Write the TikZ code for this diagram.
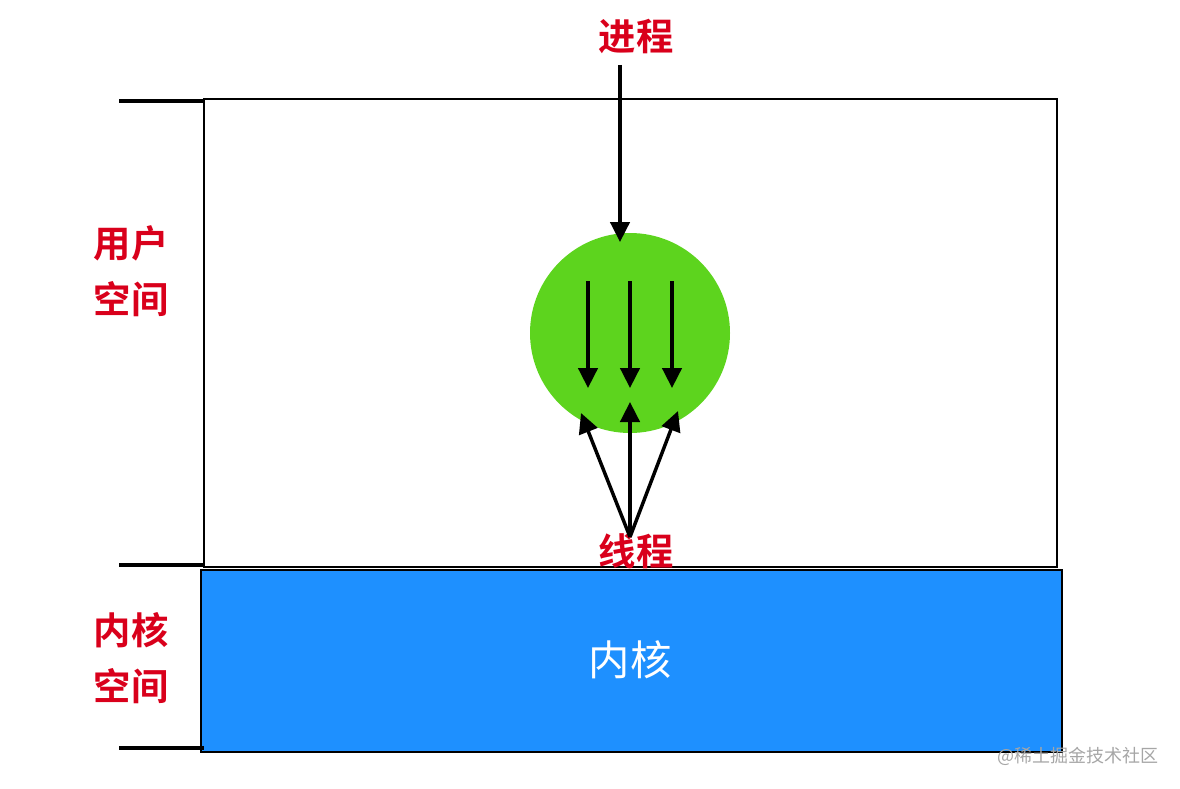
\documentclass[tikz,border=0pt]{standalone}
\usepackage{fontspec}
\newfontfamily\cjk{Noto Sans CJK SC}[BoldFont={Noto Sans CJK SC Bold}]
\usetikzlibrary{arrows.meta}
\definecolor{lblred}{HTML}{D9001B}
\definecolor{kblue}{HTML}{1E90FF}
\definecolor{tgreen}{HTML}{5DD41E}
\tikzset{
  lbl/.style={text=lblred, font=\cjk\bfseries\fontsize{28}{36}\selectfont, inner sep=0pt, align=center},
  arr/.style={line width=2.6pt, -{Triangle[length=15pt,width=14.5pt]}},
  ticksty/.style={line width=2.4pt},
}
\begin{document}
\begin{tikzpicture}[x=0.75pt,y=-0.75pt]
\useasboundingbox (0,0) rectangle (1180,788);
% user space box
\draw[line width=1.3pt] (204,99) rectangle (1057,567);
% kernel box
\node[draw=black, line width=1.6pt, fill=kblue, minimum width=645.75pt, minimum height=136.5pt, anchor=north west, inner sep=0pt] (kernel) at (200,569) {};
\node[text=white, font=\cjk\fontsize{31}{38}\selectfont] (ktext) at (630,660) {内核};
% ticks
\coordinate (t1a) at (119,101); \coordinate (t1b) at (204,101);
\coordinate (t2a) at (119,565); \coordinate (t2b) at (204,565);
\coordinate (t3a) at (119,748); \coordinate (t3b) at (204,748);
\draw[ticksty] (t1a) -- (t1b);
\draw[ticksty] (t2a) -- (t2b);
\draw[ticksty] (t3a) -- (t3b);
% side labels
\node[lbl] (user) at (131,271) {用户\\[6pt]空间};
\node[lbl] (kspace) at (131,658) {内核\\[6pt]空间};
% process
\node[lbl] (proc) at (636,37) {进程};
\node[circle, fill=tgreen, minimum size=150pt, inner sep=0pt] (circ) at (630,333) {};
\coordinate (pstart) at (620,65);
\coordinate (pend) at (620,242);
\draw[arr] (pstart) -- (pend);
% thread arrows inside
\coordinate (d1a) at (588,281); \coordinate (d1b) at (588,388);
\coordinate (d2a) at (630,281); \coordinate (d2b) at (630,388);
\coordinate (d3a) at (672,281); \coordinate (d3b) at (672,388);
\draw[arr] (d1a) -- (d1b);
\draw[arr] (d2a) -- (d2b);
\draw[arr] (d3a) -- (d3b);
% threads label
\node[lbl] (thr) at (636,551) {线程};
\coordinate (base) at (630,537);
\coordinate (u1) at (581,413);
\coordinate (u2) at (630,402);
\coordinate (u3) at (678,411);
\draw[arr] (base) -- (u1);
\draw[arr] (base) -- (u2);
\draw[arr] (base) -- (u3);
% watermark
\node[text=black!35, font=\cjk\fontsize{13.5}{16}\selectfont, anchor=west, inner sep=0pt] (wm) at (997,756) {@稀土掘金技术社区};
\end{tikzpicture}
\end{document}
